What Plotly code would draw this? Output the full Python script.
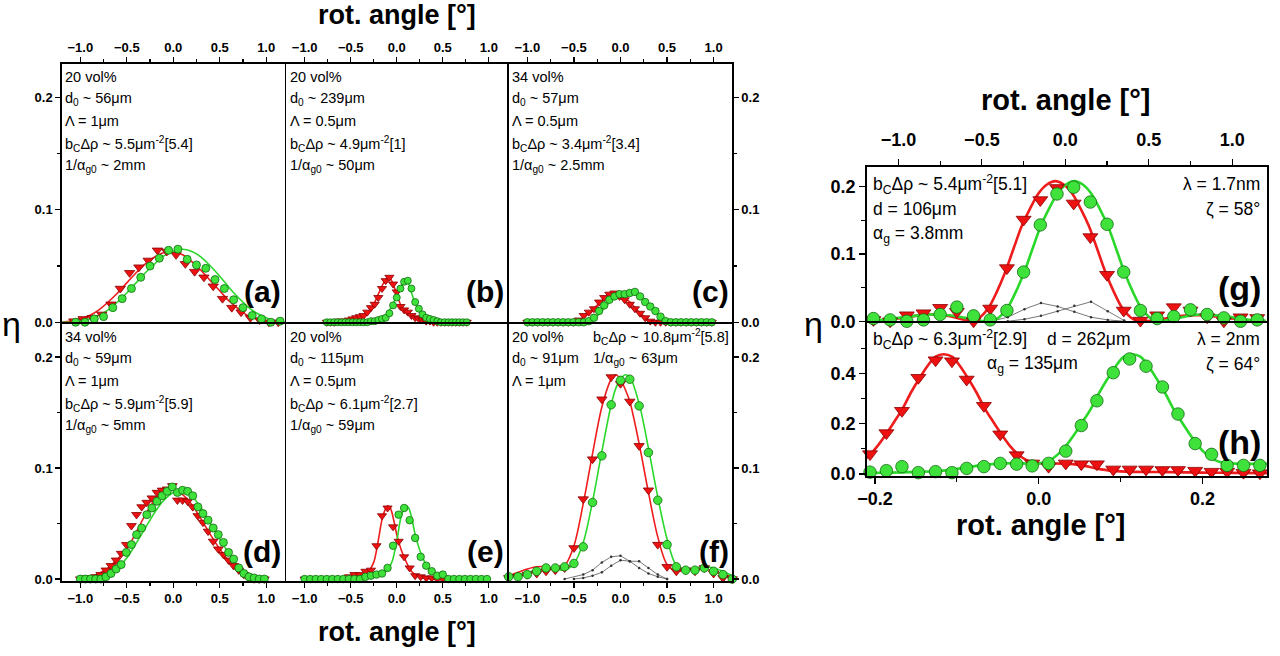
import plotly.graph_objects as go

# ================= DATA =================
# panel (a)
a_red_x = [-1.07,-0.97,-0.87,-0.77,-0.67,-0.57,-0.47,-0.37,-0.27,-0.17,-0.07,0.03,0.13,0.23,0.33,0.43,0.53,0.63,0.73,0.83,0.93,1.03,1.13]
a_red_y = [0.001,0.003,0.004,0.007,0.016,0.030,0.044,0.049,0.055,0.064,0.063,0.060,0.052,0.045,0.040,0.032,0.021,0.013,0.009,0.004,0.002,0.000,0.000]
a_green_x = [-1.05,-0.95,-0.85,-0.75,-0.65,-0.55,-0.45,-0.35,-0.25,-0.15,-0.05,0.05,0.15,0.25,0.35,0.45,0.55,0.65,0.75,0.85,0.95,1.05,1.15]
a_green_y = [0.000,0.000,0.003,0.005,0.013,0.021,0.030,0.040,0.050,0.057,0.064,0.065,0.056,0.051,0.048,0.038,0.030,0.020,0.013,0.006,0.003,0.000,0.001]
a_fit_x = [-1.2,-1.1,-1.0,-0.9,-0.8,-0.7,-0.6,-0.5,-0.4,-0.3,-0.2,-0.1,0.0,0.1,0.2,0.3,0.4,0.5,0.6,0.7,0.8,0.9,1.0,1.1,1.2]
a_red_fit = [0.000,0.001,0.003,0.006,0.011,0.018,0.026,0.035,0.044,0.052,0.058,0.062,0.063,0.060,0.054,0.046,0.037,0.028,0.019,0.012,0.006,0.003,0.001,0.000,0.000]
a_green_fit = [0.000,0.000,0.001,0.003,0.006,0.011,0.018,0.026,0.035,0.044,0.052,0.059,0.063,0.065,0.063,0.058,0.050,0.041,0.031,0.022,0.014,0.008,0.004,0.001,0.000]

# panel (b)
b_x = [-0.76,-0.72,-0.68,-0.64,-0.60,-0.56,-0.52,-0.48,-0.44,-0.40,-0.36,-0.32,-0.28,-0.24,-0.20,-0.16,-0.12,-0.08,-0.04,
       0.00,0.04,0.08,0.12,0.16,0.20,0.24,0.28,0.32,0.36,0.40,0.44,0.48,0.52,0.56,0.60,0.64,0.68,0.72,0.76]
b_red_y = [0,0,0,0.001,0.001,0.001,0.002,0.003,0.004,0.005,0.006,0.009,0.013,0.016,0.022,0.030,0.037,0.040,
           0.034,0.027,0.014,0.011,0.009,0.006,0.004,0.003,0.002,0.001,0.001,0,0,0,0,0,0,0,0,0,0]
b_green_y = [0,0,0,0,0,0,0,0,0,0,0,0,0.001,0.001,0.002,0.003,0.004,0.008,0.015,0.022,0.030,0.036,0.037,0.030,
             0.018,0.012,0.007,0.004,0.003,0.002,0.001,0,0,0,0,0,0,0,0]
b_rfit_x = [-0.76,-0.6,-0.5,-0.4,-0.35,-0.3,-0.25,-0.2,-0.15,-0.1,-0.08,-0.05,0.0,0.03,0.05,0.1,0.15,0.2,0.3,0.4,0.5,0.76]
b_red_fit = [0.000,0.001,0.002,0.004,0.006,0.010,0.016,0.025,0.034,0.040,0.040,0.036,0.025,0.018,0.014,0.009,0.006,0.004,0.002,0.001,0.000,0.000]
b_gfit_x = [-0.76,-0.3,-0.2,-0.15,-0.1,-0.05,0.0,0.05,0.08,0.1,0.13,0.15,0.2,0.25,0.3,0.35,0.4,0.5,0.6,0.76]
b_green_fit = [0.000,0.000,0.002,0.004,0.008,0.015,0.023,0.032,0.036,0.037,0.034,0.029,0.017,0.010,0.006,0.004,0.002,0.001,0.000,0.000]

# panel (c)
c_x = [-1.0,-0.945,-0.89,-0.835,-0.78,-0.725,-0.67,-0.615,-0.56,-0.505,-0.45,-0.395,-0.34,-0.285,-0.23,-0.175,-0.12,-0.065,-0.01,
       0.045,0.1,0.155,0.21,0.265,0.32,0.375,0.43,0.485,0.54,0.595,0.65,0.705,0.76,0.815,0.87,0.925,0.98]
c_red_y = [0,0,0,0,0,0,0,0,0,0,0.002,0.006,0.009,0.012,0.018,0.022,0.025,0.026,0.023,0.020,0.016,0.012,0.008,0.004,0.001,
           0,0,0,0,0,0,0,0,0,0,0,0]
c_green_y = [0,0,0,0,0,0,0,0,0,0,0,0,0.001,0.004,0.010,0.015,0.020,0.023,0.025,0.025,0.026,0.027,0.023,0.018,0.014,0.010,
             0.005,0.001,0,0,0,0,0,0,0,0,0]
c_rfit_x = [-1.0,-0.5,-0.45,-0.4,-0.3,-0.2,-0.1,-0.05,0.0,0.1,0.2,0.3,0.35,1.0]
c_red_fit = [0,0,0.001,0.004,0.011,0.019,0.025,0.026,0.024,0.018,0.009,0.002,0.0,0.0]
c_gfit_x = [-1.0,-0.4,-0.3,-0.2,-0.1,0.0,0.1,0.15,0.2,0.3,0.4,0.5,0.55,1.0]
c_green_fit = [0,0,0.002,0.010,0.019,0.024,0.026,0.026,0.024,0.016,0.007,0.001,0,0]

# panel (d)
d_x = [-1.0,-0.945,-0.89,-0.835,-0.78,-0.725,-0.67,-0.615,-0.56,-0.505,-0.45,-0.395,-0.34,-0.285,-0.23,-0.175,-0.12,-0.065,-0.01,
       0.045,0.1,0.155,0.21,0.265,0.32,0.375,0.43,0.485,0.54,0.595,0.65,0.705,0.76,0.815,0.87,0.925,0.98]
d_red_y = [0.000,0.001,0.001,0.002,0.004,0.008,0.012,0.017,0.023,0.031,0.048,0.058,0.065,0.069,0.073,0.078,0.080,0.081,0.084,
           0.071,0.071,0.070,0.065,0.057,0.051,0.043,0.034,0.027,0.022,0.017,0.012,0.008,0.004,0.001,0,0,0]
d_green_y = [0,0,0,0,0,0.002,0.005,0.009,0.013,0.024,0.031,0.040,0.046,0.058,0.064,0.070,0.075,0.079,0.083,
             0.078,0.080,0.079,0.075,0.065,0.059,0.053,0.046,0.040,0.033,0.024,0.018,0.010,0.005,0.002,0.001,0,0]
d_fit_x = [-1.0,-0.9,-0.8,-0.7,-0.6,-0.5,-0.4,-0.3,-0.2,-0.1,0.0,0.1,0.2,0.3,0.4,0.5,0.6,0.7,0.8,0.9,1.0]
d_red_fit = [0.000,0.002,0.005,0.010,0.018,0.027,0.042,0.058,0.071,0.079,0.080,0.076,0.067,0.054,0.040,0.027,0.016,0.008,0.003,0.001,0.000]
d_green_fit = [0.000,0.000,0.001,0.004,0.010,0.019,0.032,0.046,0.060,0.071,0.078,0.080,0.075,0.064,0.050,0.036,0.023,0.012,0.005,0.001,0.000]

# panel (e)
e_x = [-1.0,-0.94,-0.88,-0.82,-0.76,-0.70,-0.64,-0.58,-0.52,-0.46,-0.40,-0.34,-0.28,-0.22,-0.16,-0.10,-0.04,
       0.02,0.08,0.14,0.20,0.26,0.32,0.38,0.44,0.50,0.56,0.62,0.68,0.74,0.80,0.86,0.92,0.98]
e_red_y = [0,0,0,0,0,0,0,0,0.002,0.004,0.004,0.007,0.008,0.030,0.057,0.064,0.047,0.034,0.020,0.010,0.003,0.002,0.001,0.001,0.000,0.000]
e_green_y = [0,0,0,0,0,0,0,0,0,0,0,0.002,0.003,0.004,0.005,0.010,0.030,0.058,0.064,0.053,0.037,0.020,0.012,0.007,0.003,0.004,
             0,0,0,0,0,0,0,0]
e_rfit_x = [-1.0,-0.6,-0.4,-0.3,-0.25,-0.2,-0.15,-0.1,-0.07,-0.03,0.0,0.05,0.1,0.15,0.2,0.3,0.5]
e_red_fit = [0.0,0.001,0.004,0.008,0.015,0.035,0.057,0.066,0.064,0.052,0.040,0.026,0.016,0.008,0.004,0.001,0.0]
e_gfit_x = [-1.0,-0.4,-0.2,-0.1,-0.05,0.0,0.05,0.1,0.13,0.17,0.2,0.25,0.3,0.35,0.4,0.5,0.6,1.0]
e_green_fit = [0.0,0.001,0.004,0.008,0.016,0.034,0.057,0.066,0.064,0.052,0.040,0.026,0.016,0.009,0.005,0.002,0.001,0.0]

# panel (f)
f_x = [-1.2,-1.1,-1.0,-0.9,-0.8,-0.7,-0.6,-0.5,-0.4,-0.3,-0.2,-0.1,0.0,0.1,0.2,0.3,0.4,0.5,0.6,0.7,0.8,0.9,1.0,1.1,1.2]
f_red_y = [0.001,0.002,0.004,0.005,0.007,0.008,0.010,0.028,0.072,0.108,0.162,0.182,0.176,0.160,0.120,0.080,0.031,0.011,0.007,0.008,0.007,0.010,0.005,0.001,0.000]
f_green_y = [0.002,0.002,0.004,0.007,0.010,0.010,0.011,0.014,0.029,0.069,0.111,0.157,0.179,0.180,0.156,0.114,0.071,0.031,0.011,0.008,0.008,0.010,0.007,0.004,0.000]
f_fit_x = [-1.2,-1.1,-1.0,-0.9,-0.8,-0.7,-0.6,-0.5,-0.4,-0.3,-0.2,-0.1,-0.05,0.0,0.05,0.1,0.2,0.3,0.4,0.5,0.6,0.7,0.8,0.9,1.0,1.1,1.2]
f_red_fit = [0.003,0.006,0.009,0.011,0.011,0.009,0.012,0.030,0.068,0.113,0.155,0.180,0.184,0.180,0.171,0.160,0.122,0.078,0.038,0.013,0.007,0.008,0.009,0.009,0.007,0.004,0.002]
f_green_fit = [0.002,0.004,0.006,0.008,0.009,0.009,0.008,0.014,0.033,0.070,0.115,0.157,0.172,0.180,0.184,0.182,0.158,0.118,0.074,0.036,0.012,0.008,0.010,0.011,0.010,0.007,0.003]
f_gray1_x = [-0.6,-0.4,-0.3,-0.2,-0.1,0.0,0.1,0.2,0.3,0.4,0.5]
f_gray1_y = [0.000,0.004,0.008,0.015,0.020,0.021,0.016,0.010,0.005,0.002,0.000]
f_gray2_x = [-0.5,-0.4,-0.3,-0.2,-0.1,0.0,0.1,0.2,0.3,0.4,0.5]
f_gray2_y = [0.000,0.001,0.003,0.006,0.012,0.017,0.016,0.016,0.010,0.004,0.000]

# panel (g)
g_x = [-1.15,-1.05,-0.95,-0.85,-0.75,-0.65,-0.55,-0.45,-0.35,-0.25,-0.15,-0.05,0.05,0.15,0.25,0.35,0.45,0.55,0.65,0.75,0.85,0.95,1.05,1.15]
g_red_y = [0.002,0.000,0.009,0.012,0.020,0.014,0.000,0.019,0.079,0.151,0.180,0.198,0.175,0.125,0.069,0.016,0.001,0.009,0.021,0.016,0.006,0.000,0.006,0.005]
g_green_y = [0.004,0.002,0.000,0.002,0.010,0.021,0.008,0.002,0.016,0.073,0.143,0.189,0.199,0.177,0.144,0.073,0.016,0.004,0.007,0.017,0.010,0.005,0.000,0.002]
g_rfit_x = [-1.2,-1.1,-1.0,-0.9,-0.8,-0.7,-0.62,-0.56,-0.51,-0.46,-0.41,-0.36,-0.31,-0.26,-0.21,-0.16,-0.11,-0.06,-0.01,
            0.04,0.09,0.14,0.19,0.24,0.29,0.34,0.39,0.44,0.52,0.6,0.7,0.8,0.9,1.0,1.1,1.2]
g_red_fit = [0.000,0.001,0.004,0.008,0.010,0.008,0.003,0.000,0.006,0.020,0.044,0.073,0.108,0.142,0.168,0.190,0.203,0.208,0.203,
             0.190,0.168,0.142,0.108,0.073,0.044,0.020,0.006,0.000,0.001,0.004,0.008,0.009,0.007,0.004,0.001,0.000]
g_gfit_x = [-1.2,-1.1,-1.0,-0.9,-0.8,-0.7,-0.6,-0.52,-0.446,-0.396,-0.346,-0.296,-0.246,-0.196,-0.146,-0.096,-0.046,0.004,0.054,
            0.104,0.154,0.204,0.254,0.304,0.354,0.404,0.454,0.504,0.554,0.62,0.7,0.8,0.9,1.0,1.1,1.2]
g_green_fit = [0.000,0.002,0.005,0.008,0.010,0.009,0.005,0.001,0.000,0.006,0.020,0.044,0.073,0.108,0.142,0.168,0.190,0.203,0.208,
               0.203,0.190,0.168,0.142,0.108,0.073,0.044,0.020,0.006,0.000,0.002,0.006,0.010,0.009,0.006,0.002,0.001]
g_gray1_x = [-0.445,-0.345,-0.245,-0.146,-0.046,0.054,0.154,0.254,0.353]
g_gray1_y = [0.000,0.006,0.018,0.027,0.022,0.014,0.006,0.002,0.000]
g_gray2_x = [-0.345,-0.245,-0.146,-0.046,0.054,0.154,0.254,0.353]
g_gray2_y = [0.000,0.003,0.008,0.015,0.023,0.029,0.015,0.001]

# panel (h)
h_x = [-0.206,-0.186,-0.167,-0.147,-0.126,-0.106,-0.088,-0.067,-0.047,-0.027,-0.008,0.012,0.033,0.052,0.071,0.091,0.111,0.131,
       0.151,0.170,0.191,0.211,0.230,0.250,0.270]
h_red_y = [0.079,0.163,0.252,0.384,0.454,0.450,0.377,0.272,0.158,0.075,0.042,0.029,0.042,0.039,0.039,0.018,0.018,0.018,0.016,
           0.016,0.013,0.009,0.009,0.005,0.003]
h_green_y = [0.007,0.013,0.029,0.005,0.009,0.005,0.022,0.029,0.042,0.039,0.032,0.042,0.091,0.193,0.292,0.404,0.459,0.430,0.347,
             0.239,0.121,0.078,0.034,0.034,0.034]
h_rfit_x = [-0.226,-0.216,-0.206,-0.196,-0.186,-0.176,-0.166,-0.156,-0.146,-0.136,-0.126,-0.116,-0.106,-0.096,-0.086,-0.076,-0.066,
            -0.056,-0.046,-0.036,-0.026,-0.016,-0.006,0.01,0.03,0.05,0.07,0.09,0.12,0.16,0.2,0.24,0.29]
h_red_fit = [0.035,0.050,0.077,0.115,0.160,0.210,0.262,0.325,0.380,0.430,0.468,0.478,0.468,0.430,0.380,0.325,0.262,0.210,0.160,
             0.115,0.080,0.057,0.045,0.042,0.041,0.036,0.022,0.012,0.008,0.007,0.005,0.004,0.003]
h_gfit_x = [-0.22,-0.18,-0.15,-0.12,-0.10,-0.08,-0.06,-0.04,-0.02,0.0,0.014,0.024,0.034,0.044,0.054,0.064,0.074,0.084,0.094,0.104,
            0.114,0.124,0.134,0.144,0.154,0.164,0.174,0.184,0.194,0.204,0.214,0.224,0.24,0.29]
h_green_fit = [0.003,0.005,0.008,0.012,0.020,0.030,0.038,0.042,0.042,0.041,0.055,0.080,0.115,0.160,0.210,0.262,0.325,0.380,0.430,
               0.468,0.478,0.468,0.430,0.380,0.325,0.262,0.210,0.160,0.115,0.080,0.057,0.045,0.041,0.040]

# panel texts
a_text = ["20 vol%", "d<sub>0</sub> ~ 56μm", "Λ = 1μm", "b<sub>C</sub>Δρ ~ 5.5μm<sup>-2</sup>[5.4]", "1/α<sub>g0</sub> ~ 2mm"]
b_text = ["20 vol%", "d<sub>0</sub> ~ 239μm", "Λ = 0.5μm", "b<sub>C</sub>Δρ ~ 4.9μm<sup>-2</sup>[1]", "1/α<sub>g0</sub> ~ 50μm"]
c_text = ["34 vol%", "d<sub>0</sub> ~ 57μm", "Λ = 0.5μm", "b<sub>C</sub>Δρ ~ 3.4μm<sup>-2</sup>[3.4]", "1/α<sub>g0</sub> ~ 2.5mm"]
d_text = ["34 vol%", "d<sub>0</sub> ~ 59μm", "Λ = 1μm", "b<sub>C</sub>Δρ ~ 5.9μm<sup>-2</sup>[5.9]", "1/α<sub>g0</sub> ~ 5mm"]
e_text = ["20 vol%", "d<sub>0</sub> ~ 115μm", "Λ = 0.5μm", "b<sub>C</sub>Δρ ~ 6.1μm<sup>-2</sup>[2.7]", "1/α<sub>g0</sub> ~ 59μm"]
f_text_left = ["20 vol%", "d<sub>0</sub> ~ 91μm", "Λ = 1μm"]
f_text_right = ["b<sub>C</sub>Δρ ~ 10.8μm<sup>-2</sup>[5.8]", "1/α<sub>g0</sub> ~ 63μm"]
g_text_left = ["b<sub>C</sub>Δρ ~ 5.4μm<sup>-2</sup>[5.1]", "d = 106μm", "α<sub>g</sub> = 3.8mm"]
g_text_right = ["λ = 1.7nm", "ζ = 58°"]
h_text_left = "b<sub>C</sub>Δρ ~ 6.3μm<sup>-2</sup>[2.9]"
h_text_mid = ["d = 262μm", "α<sub>g</sub> = 135μm"]
h_text_right = ["λ = 2nm", "ζ = 64°"]
panel_labels = ["(a)", "(b)", "(c)", "(d)", "(e)", "(f)", "(g)", "(h)"]
x_title = "rot. angle [°]"
y_title = "η"

# ================= LAYOUT / STYLE =================
W, H = 1280, 656
def fx(p):
    return p / W
def fy(p):
    return 1 - p / H

FONT = "Liberation Sans, Arial, sans-serif"
RED_FILL = "#ee1111"
RED_EDGE = "#8a0000"
GREEN_FILL = "#3ee23a"
GREEN_EDGE = "#136b13"
RED_LINE = "#ee1c1c"
GREEN_LINE = "#2ad82a"
AXLW = 1.5
HL = AXLW / 2.0

# frame line positions (pixels)
XL = [61, 285.5, 508, 733]
YL = [63, 323, 582]
RX = (866, 1268)
RY = [166, 322, 477]

fig = go.Figure()

def axid(n):
    return ("x" if n == 1 else f"x{n}"), ("y" if n == 1 else f"y{n}")

def add_line(n, x, y, color, width):
    xa, ya = axid(n)
    fig.add_trace(go.Scatter(x=x, y=y, mode="lines", xaxis=xa, yaxis=ya,
                             line=dict(color=color, width=width, shape="spline", smoothing=0.9),
                             hoverinfo="skip", showlegend=False))

def add_gray(n, x, y):
    xa, ya = axid(n)
    fig.add_trace(go.Scatter(x=x, y=y, mode="lines+markers", xaxis=xa, yaxis=ya,
                             line=dict(color="#555555", width=0.8),
                             marker=dict(size=2.5, color="#333333"),
                             hoverinfo="skip", showlegend=False))

def add_pts(n, x, y, kind, size):
    xa, ya = axid(n)
    if kind == "red":
        mk = dict(symbol="triangle-down", size=size, color=RED_FILL, line=dict(color=RED_EDGE, width=0.8))
    else:
        mk = dict(symbol="circle", size=size, color=GREEN_FILL, line=dict(color=GREEN_EDGE, width=0.8))
    fig.add_trace(go.Scatter(x=x, y=y, mode="markers", xaxis=xa, yaxis=ya, marker=mk,
                             hoverinfo="skip", showlegend=False, cliponaxis=False))

# left grid panels
LW = 1.6
add_line(1, a_fit_x, a_red_fit, RED_LINE, LW); add_line(1, a_fit_x, a_green_fit, GREEN_LINE, LW)
add_pts(1, a_red_x, a_red_y, "red", 9); add_pts(1, a_green_x, a_green_y, "green", 8)

add_line(2, b_rfit_x, b_red_fit, RED_LINE, LW); add_line(2, b_gfit_x, b_green_fit, GREEN_LINE, LW)
add_pts(2, b_x, b_red_y, "red", 8); add_pts(2, b_x, b_green_y, "green", 7)

add_line(3, c_rfit_x, c_red_fit, RED_LINE, LW); add_line(3, c_gfit_x, c_green_fit, GREEN_LINE, LW)
add_pts(3, c_x, c_red_y, "red", 8); add_pts(3, c_x, c_green_y, "green", 7.5)

add_line(4, d_fit_x, d_red_fit, RED_LINE, LW); add_line(4, d_fit_x, d_green_fit, GREEN_LINE, LW)
add_pts(4, d_x, d_red_y, "red", 8.5); add_pts(4, d_x, d_green_y, "green", 8)

add_line(5, e_rfit_x, e_red_fit, RED_LINE, LW); add_line(5, e_gfit_x, e_green_fit, GREEN_LINE, LW)
add_pts(5, e_x[:len(e_red_y)], e_red_y, "red", 8); add_pts(5, e_x, e_green_y, "green", 7.5)

add_gray(6, f_gray1_x, f_gray1_y); add_gray(6, f_gray2_x, f_gray2_y)
add_line(6, f_fit_x, f_red_fit, RED_LINE, LW); add_line(6, f_fit_x, f_green_fit, GREEN_LINE, LW)
add_pts(6, f_x, f_red_y, "red", 9); add_pts(6, f_x, f_green_y, "green", 8.5)

# right panels
add_gray(7, g_gray1_x, g_gray1_y); add_gray(7, g_gray2_x, g_gray2_y)
add_line(7, g_rfit_x, g_red_fit, RED_LINE, 2.6); add_line(7, g_gfit_x, g_green_fit, GREEN_LINE, 2.6)
add_pts(7, g_x, g_red_y, "red", 13); add_pts(7, g_x, g_green_y, "green", 12.5)

add_line(8, h_rfit_x, h_red_fit, RED_LINE, 2.6); add_line(8, h_gfit_x, h_green_fit, GREEN_LINE, 2.6)
add_pts(8, h_x, h_red_y, "red", 13); add_pts(8, h_x, h_green_y, "green", 12.5)

small_tick = dict(family=FONT, size=13, color="black", weight="bold")
big_tick = dict(family=FONT, size=18, color="black", weight="bold")

def base(**kw):
    d = dict(showline=True, linecolor="black", linewidth=AXLW, mirror=True, showgrid=False, zeroline=False,
             ticks="outside", tickcolor="black", tickwidth=1.2, ticklen=5, fixedrange=True, automargin=False)
    d.update(kw)
    return d

def xdom(l, r):
    return [fx(l + HL), fx(r - HL)]

def ydom(t, b):
    return [fy(b - HL), fy(t + HL)]

layout = {}
for i in range(6):
    n = i + 1
    c = i % 3
    r = i // 3
    xa = "xaxis" if n == 1 else f"xaxis{n}"
    ya = "yaxis" if n == 1 else f"yaxis{n}"
    xid, yid = axid(n)
    layout[xa] = base(domain=xdom(XL[c], XL[c + 1]), anchor=yid, side="top" if r == 0 else "bottom",
                      range=[-1.2, 1.2], tickmode="linear", tick0=0, dtick=0.5, tickformat=".1f",
                      tickfont=small_tick, minor=dict(ticks="outside", dtick=0.25, ticklen=3, tickcolor="black"))
    yr = [0, 0.23] if r == 0 else [-0.002, 0.23]
    if c == 1:
        layout[ya] = base(domain=ydom(YL[r], YL[r + 1]), anchor=xid, range=yr, ticks="", showticklabels=False)
    else:
        layout[ya] = base(domain=ydom(YL[r], YL[r + 1]), anchor=xid, range=yr, side="left" if c == 0 else "right",
                          tickmode="linear", tick0=0, dtick=0.1, tickformat=".1f", tickfont=small_tick,
                          minor=dict(ticks="outside", dtick=0.05, ticklen=3, tickcolor="black"))

layout["xaxis7"] = base(domain=xdom(*RX), anchor="y7", side="top", range=[-1.19, 1.21],
                        tickmode="linear", tick0=0, dtick=0.5, tickformat=".1f", tickfont=big_tick, ticklen=6,
                        ticklabelstandoff=6,
                        minor=dict(ticks="outside", dtick=0.25, ticklen=4, tickcolor="black"))
layout["yaxis7"] = base(domain=ydom(RY[0], RY[1]), anchor="x7", range=[0, 0.2294],
                        tickmode="linear", tick0=0, dtick=0.1, tickformat=".1f", tickfont=big_tick, ticklen=6,
                        minor=dict(ticks="outside", dtick=0.05, ticklen=4, tickcolor="black"))
layout["xaxis8"] = base(domain=xdom(*RX), anchor="y8", side="bottom", range=[-0.21, 0.279],
                        tickmode="linear", tick0=0, dtick=0.2, tickformat=".1f", tickfont=big_tick, ticklen=6,
                        minor=dict(ticks="outside", dtick=0.1, ticklen=4, tickcolor="black"))
layout["yaxis8"] = base(domain=ydom(RY[1], RY[2]), anchor="x8", range=[-0.0094, 0.6035],
                        tickmode="array", tickvals=[0, 0.2, 0.4], ticktext=["0.0", "0.2", "0.4"], tickfont=big_tick, ticklen=6,
                        minor=dict(ticks="outside", tickvals=[0.1, 0.3, 0.5], ticklen=4, tickcolor="black"))

fig.update_layout(**layout)

def note(px, py, text, size, anchor="left", bold=False):
    fig.add_annotation(xref="paper", yref="paper", x=fx(px), y=fy(py), text=text, showarrow=False,
                       xanchor=anchor, yanchor="middle",
                       font=dict(family=FONT, size=size, color="black", weight="bold" if bold else "normal"))

TS = 14.5
LINE_Y_TOP = [77, 99, 121, 144, 166]
LINE_Y_BOT = [337, 359, 381, 404, 426]
for texts, x0, ys in [(a_text, 63, LINE_Y_TOP), (b_text, 288, LINE_Y_TOP), (c_text, 510, LINE_Y_TOP),
                      (d_text, 63, LINE_Y_BOT), (e_text, 288, LINE_Y_BOT)]:
    for t, yy in zip(texts, ys):
        note(x0, yy, t, TS)
for t, yy in zip(f_text_left, LINE_Y_BOT):
    note(510, yy, t, TS)
for t, yy in zip(f_text_right, LINE_Y_BOT):
    note(591, yy, t, TS)

# panel labels
for lab, (px, py) in zip(panel_labels[:6], [(283, 292), (506, 292), (731, 292), (283, 551), (506, 551), (731, 551)]):
    note(px, py, lab, 30, anchor="right", bold=True)
note(1263, 288, panel_labels[6], 34, anchor="right", bold=True)
note(1263, 442, panel_labels[7], 34, anchor="right", bold=True)

RS = 17.5
for t, yy in zip(g_text_left, [184, 209, 234]):
    note(871, yy, t, RS)
for t, yy in zip(g_text_right, [184, 209]):
    note(1262, yy, t, RS, anchor="right")
note(871, 339, h_text_left, RS)
note(1045, 339, h_text_mid[0], RS)
note(985, 364, h_text_mid[1], RS)
for t, yy in zip(h_text_right, [339, 364]):
    note(1262, yy, t, RS, anchor="right")

# axis titles
note(397, 15, x_title, 27, anchor="center", bold=True)
note(397, 632, x_title, 27, anchor="center", bold=True)
note(1065, 100, x_title, 29, anchor="center", bold=True)
note(1040, 525, x_title, 29, anchor="center", bold=True)
note(11, 324, y_title, 34, anchor="center")
note(813, 324, y_title, 34, anchor="center")

fig.update_layout(width=W, height=H, margin=dict(l=0, r=0, t=0, b=0), paper_bgcolor="white",
                  plot_bgcolor="white", showlegend=False)
fig.write_html("out.html", config={"displayModeBar": False, "staticPlot": True},
               post_script="document.body.style.margin='0px';document.body.style.overflow='hidden';")
